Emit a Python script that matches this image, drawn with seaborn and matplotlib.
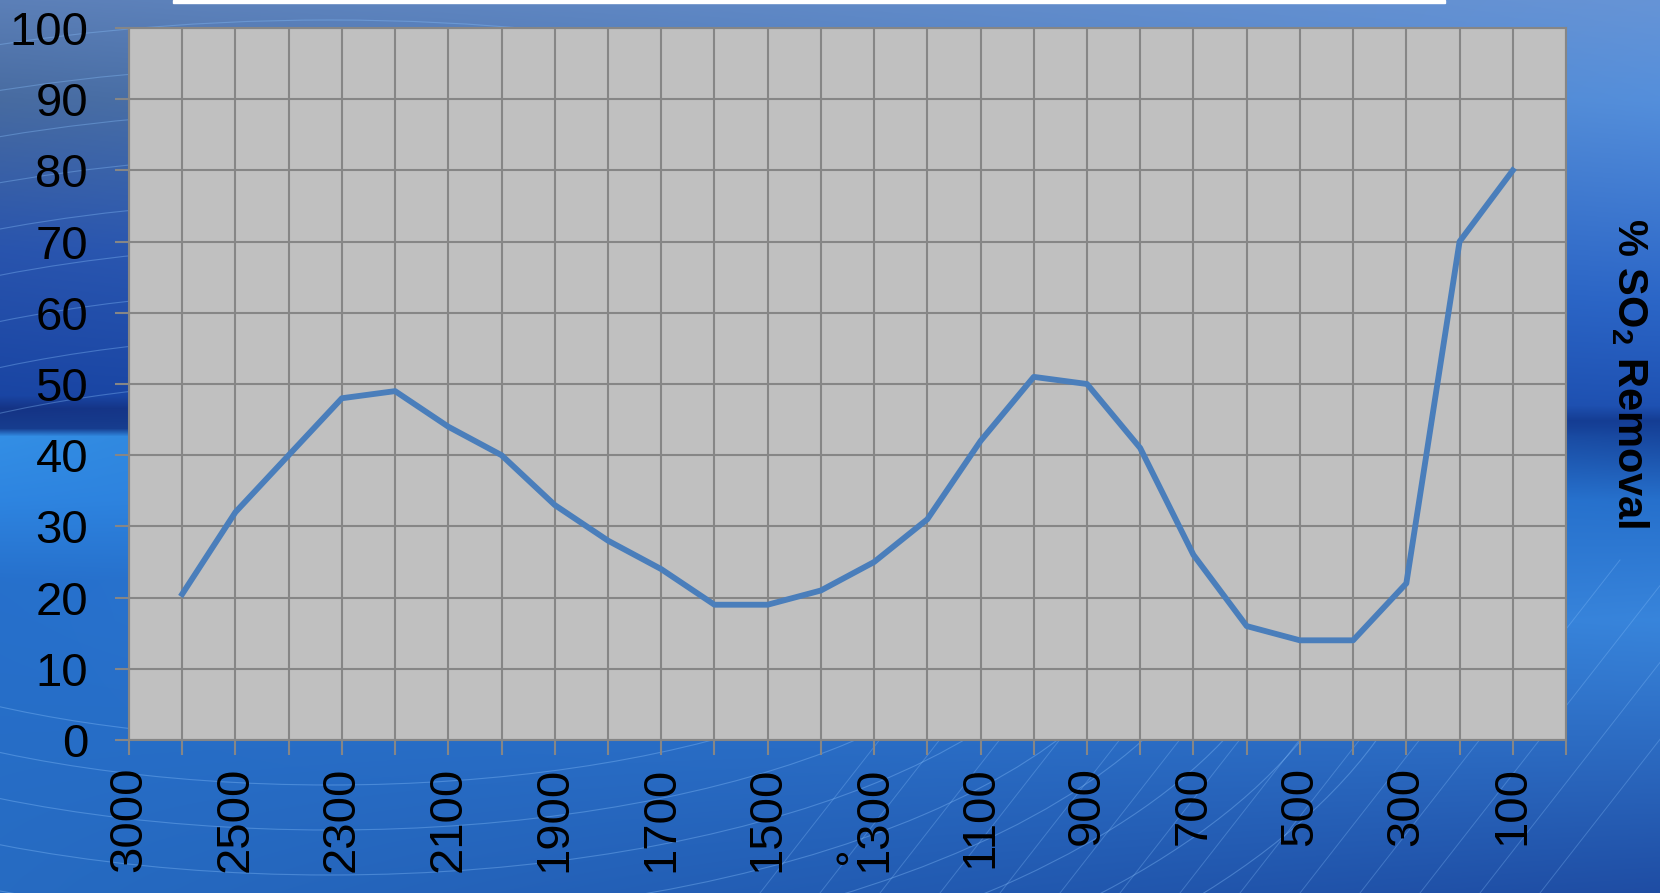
import numpy as np
import pandas as pd
import matplotlib
matplotlib.use('Agg')
import matplotlib.pyplot as plt
from matplotlib.patches import Ellipse, Rectangle
import seaborn as sns

# data, one point per category slot
positions = list(range(28))
removal = [np.nan, 20.5, 32, 40, 48, 49, 44, 40, 33, 28, 24, 19, 19, 21, 25,
           31, 42, 51, 50, 41, 26, 16, 14, 14, 22, 70, 80, np.nan]
tick_pos = list(range(0, 27, 2))
tick_labels = ['3000', '2500', '2300', '2100', '1900', '1700', '1500', '1300',
               '1100', '900', '700', '500', '300', '100']

df = pd.DataFrame({'pos': positions, 'removal': removal}).dropna()

plt.rcParams['font.family'] = ['Liberation Sans', 'DejaVu Sans']
plt.rcParams['mathtext.fontset'] = 'custom'
plt.rcParams['mathtext.rm'] = 'Liberation Sans'
plt.rcParams['mathtext.bf'] = 'Liberation Sans:bold'

W, H = 1660, 893
fig = plt.figure(figsize=(W / 100, H / 100), dpi=100)

# slide background: blue gradient
bg = fig.add_axes([0, 0, 1, 1], zorder=0)
ys = np.arange(H)
left_stops = [(0, (0.36, 0.50, 0.72)), (100, (0.28, 0.42, 0.63)), (250, (0.16, 0.33, 0.68)),
              (395, (0.10, 0.27, 0.64)), (408, (0.08, 0.20, 0.52)), (428, (0.09, 0.24, 0.56)),
              (436, (0.20, 0.56, 0.90)), (500, (0.18, 0.52, 0.88)), (580, (0.15, 0.44, 0.80)),
              (893, (0.15, 0.42, 0.76))]
right_stops = [(0, (0.40, 0.58, 0.84)), (100, (0.33, 0.56, 0.86)), (300, (0.17, 0.40, 0.78)),
               (405, (0.12, 0.32, 0.70)), (420, (0.08, 0.24, 0.58)), (500, (0.15, 0.44, 0.80)),
               (620, (0.22, 0.52, 0.86)), (893, (0.12, 0.30, 0.64))]


def column(stops):
    yy = [s[0] for s in stops]
    return np.stack([np.interp(ys, yy, [s[1][c] for s in stops]) for c in range(3)], axis=1)


lc, rc = column(left_stops), column(right_stops)
t = np.linspace(0, 1, W)[None, :, None]
img = lc[:, None, :] * (1 - t) + rc[:, None, :] * t
bg.imshow(img, extent=[0, W, H, 0], aspect='auto')
for r in range(0, 9):
    bg.add_patch(Ellipse((330, 560), 2 * (380 + 45 * r) * 1.5, 2 * (180 + 45 * r),
                         fill=False, ec='#8cc4ff', lw=0.8, alpha=0.35))
for k in range(14):
    x0 = 760 + 60 * k
    bg.plot([x0, x0 + 260], [H, 560], color='#8cc4ff', lw=0.7, alpha=0.3)
bg.add_patch(Rectangle((173, 0), 1272, 3, color='white'))
bg.set_xlim(0, W)
bg.set_ylim(H, 0)
bg.axis('off')

# chart
ax = fig.add_axes([129 / W, 1 - 740 / H, (1566 - 129) / W, (740 - 28) / H], zorder=2)
ax.set_facecolor('#c0c0c0')
sns.lineplot(data=df, x='pos', y='removal', ax=ax, color='#4a7ebb', linewidth=4.2)

ax.set_xlim(0, 27)
ax.set_ylim(0, 100)
ax.set_xticks(range(28), minor=True)
ax.set_xticks(tick_pos)
ax.set_xticklabels(tick_labels, rotation=90)
ax.set_yticks(range(0, 101, 10))
ax.grid(True, which='both', axis='x', color='#868686', lw=1.5)
ax.grid(True, which='major', axis='y', color='#868686', lw=1.5)
ax.set_axisbelow(True)
ax.tick_params(axis='both', which='both', colors='#868686', width=1.5, labelcolor='black',
               labelsize=34)
ax.tick_params(axis='x', which='both', length=11, pad=8)
ax.tick_params(axis='y', length=10, pad=19.5)
for s in ax.spines.values():
    s.set_color('#868686')
    s.set_linewidth(1.5)
ax.set_xlabel('')
ax.set_ylabel('')

fig.text(1630 / W, 1 - 373 / H, r'% SO$_\mathbf{2}$ Removal', rotation=270, ha='center',
         va='center', fontsize=30, fontweight='bold', color='black')
fig.text(842 / W, 1 / H, '°', ha='center', va='bottom', fontsize=30, color='black')

fig.savefig('out.png', dpi=100)
